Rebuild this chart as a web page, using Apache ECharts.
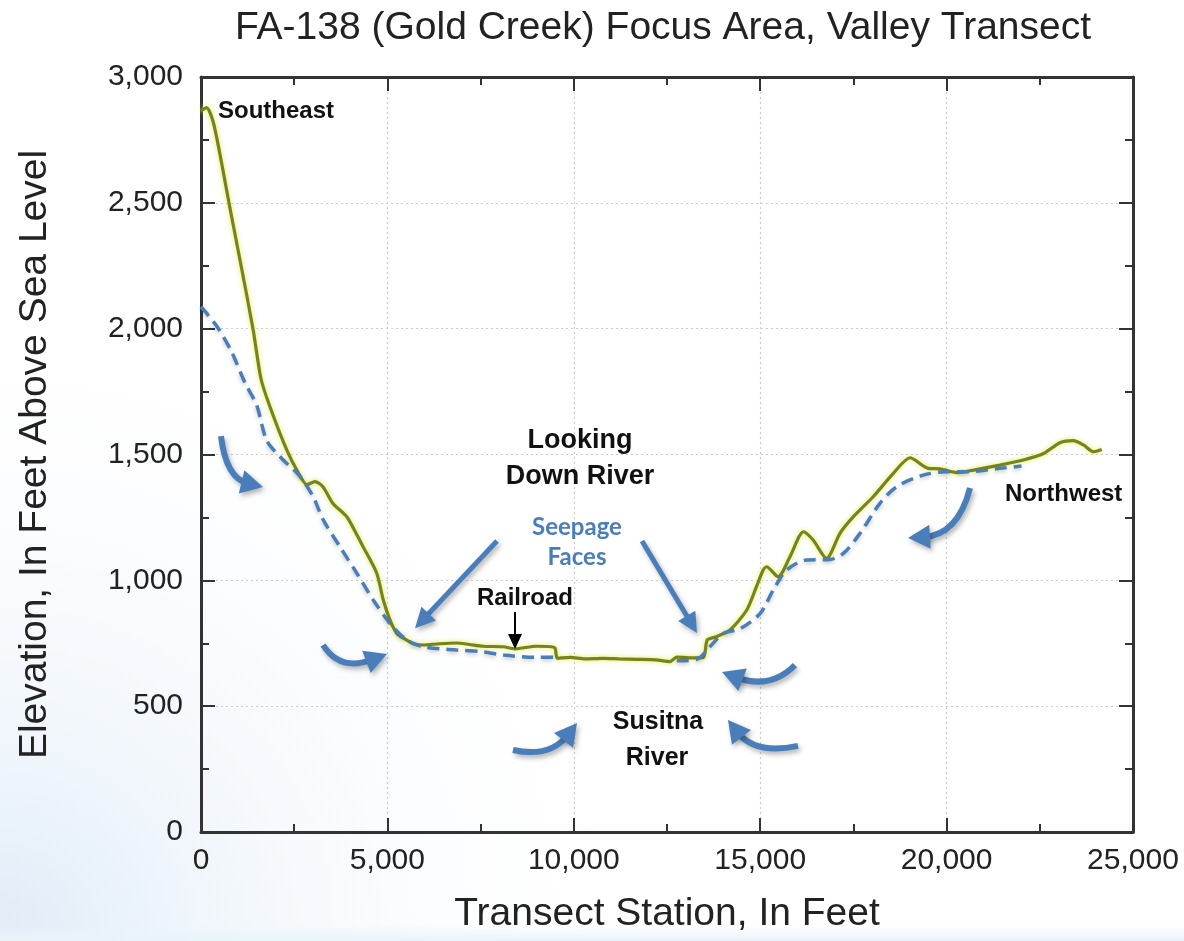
<!DOCTYPE html>
<html>
<head>
<meta charset="utf-8">
<script src="https://cdn.jsdelivr.net/npm/echarts@6/dist/echarts.min.js"></script>
<style>
  html, body { margin: 0; padding: 0; background: #ffffff; }
  #chart { width: 1184px; height: 941px; }
</style>
</head>
<body>
<div id="chart"></div>
<script>
// Ground surface profile along the transect (station ft, elevation ft)
const groundStation = [0, 150, 320, 500, 750, 1050, 1400, 1610, 1850, 2300, 2600, 2840, 3060, 3270, 3540, 3910, 4150, 4350, 4710, 4890, 5070, 5250, 5420, 5700, 5960, 6400, 6860, 7200, 7570, 8110, 8420, 9000, 9400, 9500, 9560, 9900, 10300, 10780, 11200, 11690, 12200, 12580, 12760, 13100, 13475, 13580, 13830, 14190, 14640, 14900, 15080, 15170, 15480, 15800, 16160, 16420, 16780, 17140, 17500, 18030, 18570, 19020, 19500, 19820, 20300, 20720, 21430, 22060, 22600, 23040, 23400, 23670, 23940, 24160];
const groundElev    = [2865, 2878, 2825, 2700, 2500, 2270, 1995, 1800, 1690, 1518, 1430, 1380, 1392, 1372, 1305, 1253, 1190, 1133, 1030, 922, 842, 790, 771, 748, 743, 748, 751, 745, 738, 736, 728, 738, 736, 730, 690, 694, 688, 690, 688, 686, 684, 677, 695, 692, 694, 763, 776, 803, 882, 975, 1041, 1054, 1014, 1094, 1193, 1160, 1087, 1187, 1253, 1332, 1425, 1487, 1445, 1443, 1428, 1438, 1458, 1478, 1504, 1547, 1555, 1538, 1511, 1520];

// Inferred groundwater surface, southeast and northwest reaches (station ft, elevation ft)
const waterStationSE = [0, 190, 465, 820, 1180, 1490, 1760, 2120, 2660, 3010, 3280, 3730, 4180, 4620, 5070, 5520, 5970, 6860, 7570, 8110, 9000, 9540];
const waterElevSE    = [2087, 2054, 2001, 1908, 1785, 1697, 1557, 1491, 1412, 1332, 1240, 1133, 1028, 922, 829, 763, 736, 723, 716, 703, 694, 694];
const waterStationNW = [12760, 13300, 13650, 14010, 14460, 15000, 15350, 15710, 16250, 16870, 17230, 17680, 18210, 18660, 19370, 20000, 20540, 21430, 22010];
const waterElevNW    = [680, 686, 736, 789, 808, 869, 961, 1041, 1081, 1083, 1107, 1187, 1306, 1372, 1418, 1431, 1431, 1445, 1454];

// Axis ranges
const xRange = [0, 25000], xStep = 5000;
const yRange = [0, 3000], yStep = 500;

const titleText = 'FA-138 (Gold Creek) Focus Area, Valley Transect';
const xTitle = 'Transect Station, In Feet';
const yTitle = 'Elevation, In Feet Above Sea Level';

const zip = (xs, ys) => xs.map((x, i) => [x, ys[i]]);

const TEXT_FONT = '"Liberation Sans", Arial, Helvetica, sans-serif';
const BLUE = '#4a7ebb';
const INK = '#222222';

const chart = echarts.init(document.getElementById('chart'), null, { renderer: 'canvas' });

const fmt = v => Number(v).toLocaleString('en-US');

function frameAxis(extra) {
  return Object.assign({
    type: 'value',
    axisLine: { show: true, onZero: false, lineStyle: { color: '#333', width: 3 } },
    axisTick: { show: true, inside: true, length: 14, lineStyle: { color: '#333', width: 2 } },
    minorTick: { show: true, splitNumber: 2, length: 8, lineStyle: { color: '#333', width: 2 } },
    splitLine: { show: false },
    axisLabel: { show: false }
  }, extra);
}
const gridLine = { show: true, lineStyle: { color: '#cdcdcd', width: 1.2, type: [2, 3] } };

chart.setOption({
  animation: false,
  backgroundColor: '#ffffff',
  grid: { left: 201, right: 51, top: 77, bottom: 109, containLabel: false },
  xAxis: [
    frameAxis({
      position: 'bottom', min: xRange[0], max: xRange[1], interval: xStep,
      name: xTitle, nameLocation: 'middle', nameGap: 63,
      nameTextStyle: { fontFamily: TEXT_FONT, fontSize: 39, color: INK },
      axisLabel: { show: true, formatter: fmt, fontFamily: TEXT_FONT, fontSize: 30, color: INK, margin: 14 },
      splitLine: gridLine
    }),
    frameAxis({ position: 'top', min: xRange[0], max: xRange[1], interval: xStep })
  ],
  yAxis: [
    frameAxis({
      position: 'left', min: yRange[0], max: yRange[1], interval: yStep,
      name: yTitle, nameLocation: 'middle', nameGap: 146, nameRotate: 90,
      nameTextStyle: { fontFamily: TEXT_FONT, fontSize: 39, color: INK },
      axisLabel: { show: true, formatter: fmt, fontFamily: TEXT_FONT, fontSize: 30, color: INK, margin: 18 },
      splitLine: gridLine
    }),
    frameAxis({ position: 'right', min: yRange[0], max: yRange[1], interval: yStep })
  ],
  series: [
    {
      name: 'Ground surface', type: 'line', xAxisIndex: 0, yAxisIndex: 0,
      data: zip(groundStation, groundElev), showSymbol: false, smooth: 0.25, z: 3,
      lineStyle: { color: '#77841c', width: 3.2, shadowColor: 'rgba(222,232,70,0.95)', shadowBlur: 5 }
    },
    {
      name: 'Groundwater surface', type: 'line', xAxisIndex: 0, yAxisIndex: 0,
      data: zip(waterStationSE, waterElevSE), showSymbol: false, smooth: 0.3, z: 4,
      lineStyle: { color: BLUE, width: 3.5, type: [12, 7], shadowColor: 'rgba(0,0,0,0.22)', shadowBlur: 4, shadowOffsetY: 2 }
    },
    {
      name: 'Groundwater surface NW', type: 'line', xAxisIndex: 0, yAxisIndex: 0,
      data: zip(waterStationNW, waterElevNW), showSymbol: false, smooth: 0.3, z: 4,
      lineStyle: { color: BLUE, width: 3.5, type: [12, 7], shadowColor: 'rgba(0,0,0,0.22)', shadowBlur: 4, shadowOffsetY: 2 }
    }
  ]
});

// ---- Annotations, anchored in data units (station, elevation) ----
const curvedArrows = [
  { from: [536, 1573],   ctrl: [671, 1406],   tip: [1663, 1371] },
  { from: [3273, 743],   ctrl: [3729, 636],   tip: [4989, 707] },
  { from: [8369, 326],   ctrl: [9362, 294],   tip: [10086, 433] },
  { from: [15933, 663],  ctrl: [15263, 564],  tip: [13975, 636] },
  { from: [16014, 342],  ctrl: [14861, 306],  tip: [14136, 445] },
  { from: [20628, 1367], ctrl: [20306, 1180], tip: [18965, 1168] }
];
const straightArrows = [
  { from: [7940, 1156],  tip: [5740, 810] },
  { from: [11829, 1156], tip: [13305, 791] }
];
const railroadArrow = { from: [8423, 874], tip: [8423, 727] };

const labels = [
  { text: 'Southeast',  at: [456, 2865],   align: 'left',   size: 24, color: '#111', font: TEXT_FONT },
  { text: 'Looking',    at: [10166, 1557], align: 'center', size: 27, color: '#111', font: TEXT_FONT },
  { text: 'Down River', at: [10166, 1414], align: 'center', size: 27, color: '#111', font: TEXT_FONT },
  { text: 'Seepage',    at: [10086, 1212], align: 'center', size: 24, color: BLUE,   font: 'Lato, "Open Sans", sans-serif' },
  { text: 'Faces',      at: [10086, 1093], align: 'center', size: 24, color: BLUE,   font: 'Lato, "Open Sans", sans-serif' },
  { text: 'Railroad',   at: [8691, 930],   align: 'center', size: 24, color: '#111', font: TEXT_FONT },
  { text: 'Susitna',    at: [12259, 437],  align: 'center', size: 25, color: '#111', font: TEXT_FONT },
  { text: 'River',      at: [12232, 294],  align: 'center', size: 25, color: '#111', font: TEXT_FONT },
  { text: 'Northwest',  at: [21567, 1343], align: 'left',   size: 24, color: '#111', font: TEXT_FONT }
];

function toPx(p) { return chart.convertToPixel({ gridIndex: 0 }, p); }

function arrowHead(tip, dir, len, half, color, shadow) {
  const bx = tip[0] - dir[0] * len, by = tip[1] - dir[1] * len;
  const nx = -dir[1], ny = dir[0];
  return {
    type: 'polygon', z: 20,
    shape: { points: [tip, [bx + nx * half, by + ny * half], [bx - nx * half, by - ny * half]] },
    style: Object.assign({ fill: color }, shadow || {})
  };
}

function unit(a, b) {
  const dx = b[0] - a[0], dy = b[1] - a[1];
  const d = Math.hypot(dx, dy) || 1;
  return [dx / d, dy / d];
}

const shadow = { shadowColor: 'rgba(0,0,0,0.3)', shadowBlur: 5, shadowOffsetX: 2, shadowOffsetY: 3 };
const graphics = [];

// faint tint towards the lower left of the canvas
graphics.push({
  type: 'rect', z: -10, silent: true,
  shape: { x: 0, y: 0, width: 1184, height: 941 },
  style: { fill: { type: 'radial', x: 0, y: 1, r: 0.7, colorStops: [
    { offset: 0, color: 'rgba(216,231,246,0.8)' }, { offset: 1, color: 'rgba(255,255,255,0)' } ] } }
});
graphics.push({
  type: 'rect', z: -9, silent: true,
  shape: { x: 0, y: 925, width: 1184, height: 16 },
  style: { fill: { type: 'linear', x: 0, y: 0, x2: 0, y2: 1, colorStops: [
    { offset: 0, color: 'rgba(236,245,251,0)' }, { offset: 1, color: 'rgba(232,243,250,1)' } ] } }
});

// title
graphics.push({
  type: 'text', z: 30,
  style: { text: titleText, x: 663, y: 28, align: 'center', verticalAlign: 'middle',
    fontFamily: TEXT_FONT, fontSize: 39, fill: INK }
});

curvedArrows.forEach(a => {
  const p0 = toPx(a.from), c = toPx(a.ctrl), t = toPx(a.tip);
  const dir = unit(c, t);
  const headLen = 22;
  const end = [t[0] - dir[0] * headLen * 0.7, t[1] - dir[1] * headLen * 0.7];
  graphics.push({
    type: 'bezierCurve', z: 19,
    shape: { x1: p0[0], y1: p0[1], x2: end[0], y2: end[1], cpx1: c[0], cpy1: c[1] },
    style: Object.assign({ stroke: BLUE, lineWidth: 6, fill: null, lineCap: 'butt' }, shadow)
  });
  graphics.push(arrowHead(t, dir, headLen, 12, BLUE, shadow));
});

straightArrows.forEach(a => {
  const p0 = toPx(a.from), t = toPx(a.tip);
  const dir = unit(p0, t);
  const headLen = 20;
  const end = [t[0] - dir[0] * headLen * 0.8, t[1] - dir[1] * headLen * 0.8];
  graphics.push({
    type: 'line', z: 19,
    shape: { x1: p0[0], y1: p0[1], x2: end[0], y2: end[1] },
    style: Object.assign({ stroke: BLUE, lineWidth: 5 }, shadow)
  });
  graphics.push(arrowHead(t, dir, headLen, 10, BLUE, shadow));
});

(function () {
  const p0 = toPx(railroadArrow.from), t = toPx(railroadArrow.tip);
  const dir = unit(p0, t);
  graphics.push({
    type: 'line', z: 19,
    shape: { x1: p0[0], y1: p0[1], x2: t[0] - dir[0] * 10, y2: t[1] - dir[1] * 10 },
    style: { stroke: '#000', lineWidth: 2 }
  });
  graphics.push(arrowHead(t, dir, 15, 7, '#000'));
})();

labels.forEach(l => {
  const p = toPx(l.at);
  graphics.push({
    type: 'text', z: 25,
    style: { text: l.text, x: p[0], y: p[1], align: l.align, verticalAlign: 'middle',
      fontFamily: l.font, fontSize: l.size, fontWeight: 'bold', fill: l.color }
  });
});

chart.setOption({ graphic: graphics });
</script>
</body>
</html>
